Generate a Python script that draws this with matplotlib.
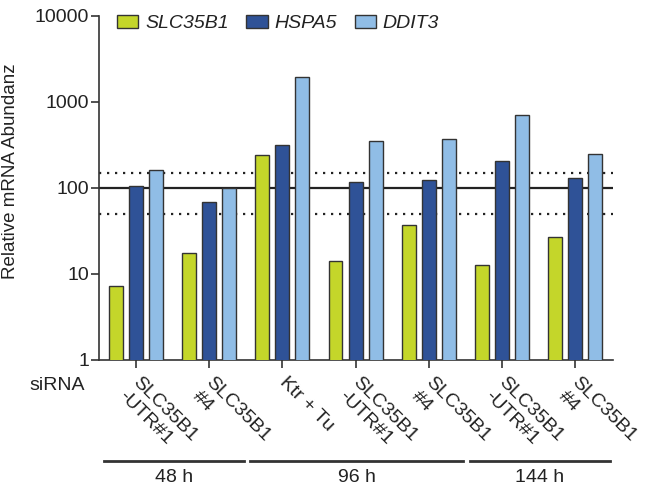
import numpy as np
import matplotlib
matplotlib.use("Agg")
import matplotlib.pyplot as plt
from matplotlib.transforms import blended_transform_factory

plt.rcParams['font.family'] = ['Liberation Sans', 'DejaVu Sans']

# samples (siRNA), grouped by time point
samples = ["SLC35B1\n-UTR#1", "SLC35B1\n#4", "Ktr + Tu", "SLC35B1\n-UTR#1",
           "SLC35B1\n#4", "SLC35B1\n-UTR#1", "SLC35B1\n#4"]
genes = ["SLC35B1", "HSPA5", "DDIT3"]
slc35b1 = [7.2, 17.5, 244, 14.3, 37, 12.8, 27]
hspa5 = [106, 69, 320, 116, 124, 208, 129]
ddit3 = [163, 99, 1950, 355, 375, 700, 251]
timepoints = ["48 h", "96 h", "144 h"]
time_groups = [(0, 1), (2, 4), (5, 6)]
ref_level = 100
band = [50, 150]

colors = ["#c4d62a", "#2f5297", "#90bde6"]

fig = plt.figure(figsize=(6.67, 4.92), dpi=100)
ax = fig.add_axes([99/667, 1 - 360/492, 514/667, 344/492])

x = np.arange(len(samples))
w = 0.19
off = 0.274
series = [slc35b1, hspa5, ddit3]
for k, vals in enumerate(series):
    ax.bar(x + (k - 1) * off, vals, w, color=colors[k], edgecolor="#333333",
           linewidth=1.0, label=genes[k], zorder=3)

# reference lines behind the bars
ax.axhline(ref_level, color="#222222", lw=1.6, zorder=1)
for b in band:
    ax.axhline(b, color="#222222", lw=1.6, ls=(0, (1, 2.6)), zorder=1)

ax.set_yscale("log")
ax.set_ylim(1, 10000)
ax.set_xlim(-0.505, 6.517)
ax.set_yticks([1, 10, 100, 1000, 10000])
ax.set_yticklabels(["1", "10", "100", "1000", "10000"])
ax.minorticks_off()
ax.tick_params(axis="y", labelsize=14, length=6, width=1.2, pad=1,
               colors="#333333", labelcolor="#222222")
ax.set_xticks(x)
ax.set_xticklabels([])
ax.tick_params(axis="x", length=6, width=1.2, colors="#333333")

for s in ["top", "right"]:
    ax.spines[s].set_visible(False)
for s in ["left", "bottom"]:
    ax.spines[s].set_linewidth(1.2)
    ax.spines[s].set_color("#333333")

ax.set_ylabel("Relative mRNA Abundanz", fontsize=13.5, color="#222222")
ax.yaxis.set_label_coords(-0.155, 0.55)

# rotated sample labels
for i, lab in enumerate(samples):
    ax.annotate(lab, xy=(i, 0), xycoords=("data", "axes fraction"),
                xytext=(4, -10), textcoords="offset points",
                rotation=-45, rotation_mode="anchor", ha="left", va="top",
                fontsize=14, color="#222222", linespacing=1.2)

fig.text(29/667, 1 - 385/492, "siRNA", fontsize=14, color="#222222",
         va="center", ha="left")

# time point brackets
tr = blended_transform_factory(ax.transData, ax.transAxes)
for name, (a, b) in zip(timepoints, time_groups):
    y_line = -101/344
    ax.plot([a - 0.44, b + 0.47], [y_line, y_line], transform=tr,
            color="#333333", lw=2, clip_on=False)
    ax.text((a + b) / 2 + 0.02, -118/344, name, transform=tr, ha="center",
            va="center", fontsize=14, color="#222222")

leg = ax.legend(loc="upper left", bbox_to_anchor=(0.02, 1.025), ncol=3,
                frameon=False, handlelength=1.1, handleheight=0.65,
                handletextpad=0.35, columnspacing=0.9, borderaxespad=0,
                prop={"size": 14, "style": "italic"})
for t in leg.get_texts():
    t.set_color("#222222")

fig.savefig("out.png", dpi=100)
